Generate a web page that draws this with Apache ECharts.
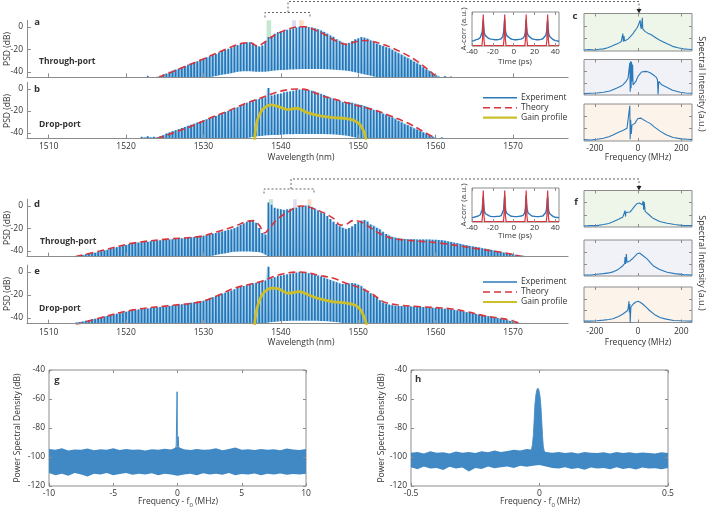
<!DOCTYPE html>
<html><head><meta charset="utf-8">
<script src="https://cdn.jsdelivr.net/npm/echarts@6/dist/echarts.min.js"></script>
<style>html,body{margin:0;padding:0;background:#fff}#c{width:707px;height:511px}</style>
</head><body><div id="c"></div><script>
// ---------------- DATA ----------------
const COMB_STEP = 0.4;            // nm, comb line spacing
const WL_TICKS = [1510,1520,1530,1540,1550,1560,1570];
const PSD_TICKS = [-40,-20,0];
const LEGEND_ITEMS = ['Experiment', 'Theory', 'Gain profile'];

// (a) through-port, peaks of comb lines starting at A_START
const A_START = 1522.8;
const A_PEAKS = [-43.5,-46,-46,-44.5,-43.5,-42.5,-41.5,-40,-39,-38,
 -37,-36,-35,-33.5,-32.5,-31.5,-30.5,-29,-28,-27,
 -26,-25,-24,-22.5,-21.5,-20.5,-19.5,-18.5,-17,-16,
 -15,-14,-13.5,-13.5,-15,-17,-17.5,-16.5,-13,-9,
 -8,-6,-4.5,-4,-3,-2.5,-2,-1,-0.5,0.5,
 1,0.5,0,-0.5,-1,-2,-3,-4.5,-6,-7.5,
 -9,-11,-12.5,-14,-15,-14,-12.5,-11,-10,-9,
 -9.5,-10.5,-12,-13.5,-15,-16,-17,-18,-19,-20.5,
 -22,-23.5,-25,-26.5,-28,-29.5,-31,-32.5,-34,-36,
 -38,-39.5,-41.5,-43,-44.5,-46,-44,-46,-44.2];
const A_THEORY = [[1524.2,-45],[1527,-37],[1530,-28.5],[1533,-19.5],[1535,-14.5],[1536,-14],[1537,-17],[1538,-13],[1539,-8],[1540.5,-3],[1542,0],[1543,0.3],[1544,-1.5],[1545.5,-6],[1547,-12],[1548.5,-15.5],[1549.5,-13.5],[1550.5,-12],[1551.5,-12.5],[1553,-15],[1554.5,-19],[1556,-24],[1557.5,-30],[1559,-38],[1560.2,-45]];
const A_FLOOR = [[1530,-46],[1533,-42],[1535.5,-39.5],[1537.5,-40],[1540,-38.5],[1544,-37.5],[1547.5,-38.5],[1550,-41],[1553,-46]];
const A_SELECTED = [[1538.15,1538.75],[1541.45,1541.95],[1542.35,1542.95]];

// (b) drop-port
const B_START = 1522.0;
const B_PEAKS = [-43.5,-44,-43,-44,-43.5,-44,-43,-42,-40.5,-39.5,
 -38.5,-37.5,-36.5,-35.5,-34.5,-33.5,-32.5,-31.5,-30.5,-29.5,
 -28.5,-27.5,-26.5,-25.5,-24.5,-23.5,-22.5,-21,-20,-19,
 -17.5,-16.5,-15,-14,-12.5,-11.5,-10.5,-9.5,-9,-8,
 -7.5,1,-6,-5,-4.5,-4,-3,-2.5,-2,-1.5,
 -1,-0.5,-0.5,-1,-1,-1.5,-2.5,-3.5,-4.5,-5.5,
 -7,-8,-9,-10,-11,-12,-12.5,-12,-12.5,-13.5,
 -14,-14.5,-15.5,-16.5,-17.5,-19,-20,-21,-22.5,-23.5,
 -25,-26,-27.5,-29,-30.5,-32,-33,-34.5,-36,-37,
 -38.5,-39.5,-41,-42,-43.5,-44.5,-46,-44,-46,-44.5];
const B_THEORY = [[1524,-45],[1528,-35],[1531,-26],[1533.5,-19],[1535.5,-13],[1537.3,-8.5],[1539,-4],[1540.6,-1],[1542.1,0],[1543.5,-1],[1545.1,-5.5],[1547.3,-10],[1549,-13.5],[1552,-19],[1554,-24],[1556.4,-31],[1558,-37],[1560,-45]];
const B_GAIN = [[1536.6,-46],[1536.9,-30],[1537.4,-21],[1537.9,-17],[1538.7,-14.5],[1539.5,-15.5],[1540.8,-18.5],[1542.1,-17.5],[1543.4,-21.5],[1545.1,-24.5],[1546.8,-26],[1548.5,-27],[1549.6,-29],[1550.3,-33],[1550.8,-40],[1551,-46]];
const B_FLOOR = [[1535,-46],[1537,-43],[1540,-41.5],[1544,-41],[1548,-42],[1550.5,-46]];

// (d) through-port, second state
const D_START = 1513.2;
const D_PEAKS = [-45.5,-44.5,-44,-43.5,-43,-42.5,-42,-41.5,-41,-40.3,
 -39.6,-39,-38.2,-37.5,-36.8,-36,-35.3,-34.6,-33.8,-33.2,
 -32.8,-32.5,-32.2,-32,-31.7,-31.4,-31.1,-30.8,-30.5,-30.2,
 -30,-29.8,-29.5,-29.2,-29,-28.7,-28.4,-28.1,-27.8,-27.5,
 -27.2,-27,-26.5,-26,-25.3,-24.6,-24,-23.3,-22.6,-22,
 -21.3,-20.6,-19.8,-18.5,-17,-15.5,-14,-12.8,-12.5,-15,
 -19.5,-24,-25.5,3,1,-1.5,-2.5,-3,-3.5,-3,
 -2.5,-2,-1.5,-0.5,0,0.5,0.5,-1,-2.5,-4,
 -5.5,-7,-9,-11.5,-14,-16,-18,-19.5,-20.5,-19.5,
 -18,-16,-14,-13,-12.5,-14,-16.5,-18,-19.5,-21,
 -23,-25,-26.5,-27.5,-28.3,-28.8,-29.2,-29.4,-29.5,-29.6,
 -29.6,-29.7,-29.8,-29.8,-29.9,-29.9,-30,-30,-30.2,-30.5,
 -31,-31.5,-32,-32.6,-33.2,-33.8,-34.4,-35,-35.5,-36,
 -36.5,-37,-37.5,-38,-38.6,-39.2,-39.8,-40.4,-41,-41.5,
 -42,-42.5,-43,-43.5,-44,-44.3,-44.5,-44.6,-44.7,-44.8,
 -45];
const D_THEORY = [[1513.5,-45],[1516.6,-40],[1520.9,-33],[1525.3,-29.5],[1529.6,-27],[1532,-22.5],[1533.9,-18.5],[1535.5,-14],[1536.4,-13],[1537.2,-17],[1537.9,-24],[1538.5,-20],[1539.5,-12],[1541,-5],[1542.5,0],[1544.7,-3.6],[1546.8,-11],[1547.7,-17],[1548.4,-16.5],[1549.3,-13],[1550.3,-14],[1551.5,-19],[1552.9,-25],[1554.5,-29],[1556.4,-30.5],[1560.6,-33],[1564.9,-37.5],[1569.2,-42],[1571.2,-45]];
const D_FLOOR = [[1530,-46],[1532.5,-42.5],[1535,-40.5],[1537,-41],[1538.5,-46]];
const D_SELECTED = [[1538.45,1539.0],[1541.6,1542.05],[1543.45,1543.95]];

// (e) drop-port, second state
const E_START = 1509.6;
const E_PEAKS = [-44.5,-45.5,-44.5,-45.5,-44.6,-45.5,-44.5,-45.5,-44.8,-44.5,
 -44,-43.5,-43,-42.4,-41.8,-41.2,-40.6,-40,-39.4,-38.8,
 -38.2,-37.6,-37,-36.4,-35.8,-35.2,-34.6,-34,-33.5,-33.1,
 -32.7,-32.3,-32,-31.7,-31.4,-31.1,-30.8,-30.5,-30.2,-30,
 -29.6,-29.2,-28.8,-28.4,-28,-27.6,-27.2,-26.8,-26.4,-26,
 -25.6,-25,-24,-23,-22,-21,-20,-19,-18,-17,
 -16,-15,-14,-13,-12.2,-11.5,-10.8,-10,-9.3,-8.7,
 -8,-7.5,4.5,-5.5,-4.5,-3.5,-3,-2.5,-2,-1.5,
 -1,-0.5,0,0,-0.5,-1,-1.5,-2,-3,-4,
 -5,-6,-7,-8,-9,-10,-10.5,-10.5,-10,-9.5,
 -10,-11,-12.5,-14.5,-16.5,-18.5,-20.5,-22.5,-24.5,-26.5,
 -27.8,-28.5,-29,-29.3,-29.5,-29.7,-29.8,-29.9,-30,-30.1,
 -30.2,-30.4,-30.5,-30.7,-30.9,-31.1,-31.3,-31.5,-31.7,-32,
 -32.3,-32.7,-33.1,-33.5,-34,-34.5,-35,-35.5,-36,-36.6,
 -37.2,-37.6,-38,-38.6,-39.2,-39.7,-40.2,-40.8,-41.4,-42,
 -42.6,-43.2,-43.8,-44.3,-44.6,-45.5,-44.8,-45.5,-45.5,-44.8,
 -44.8,-45.5];
const E_THEORY = [[1513.5,-46],[1516.6,-40],[1520.9,-33],[1525.3,-29.5],[1529.6,-26],[1532,-20],[1534,-14],[1537.3,-8.5],[1540,-2],[1542.5,0],[1545,-3],[1546.8,-5.5],[1548.5,-10],[1550.3,-14],[1552,-20],[1553.3,-26],[1555,-28.5],[1557.6,-30],[1561.9,-32],[1564,-34.5],[1566.2,-38],[1569.7,-42],[1571.2,-45.5]];
const E_GAIN = [[1536.6,-46],[1536.9,-32],[1537.4,-22],[1538,-16.5],[1538.8,-14],[1539.6,-14.5],[1541,-18.5],[1542.4,-17],[1543.6,-20],[1544.8,-23],[1546.8,-26],[1548.5,-27],[1549.6,-29],[1550.3,-33],[1550.8,-40],[1551.1,-46]];
const E_FLOOR = [[1537,-46],[1539,-43.5],[1543,-42.5],[1547,-43.5],[1549,-46]];

// autocorrelation insets
const AC_TICKS = [-40,-20,0,20,40];
const ACA_EXP = [[-40,0.16],[-38,0.17],[-36,0.2],[-34,0.22],[-32,0.27],[-31,0.32],[-30.2,0.45],[-29.6,0.7],[-29.2,0.85],[-28.8,0.62],[-28.2,0.42],[-27.2,0.33],[-26,0.28],[-24,0.24],[-22,0.22],[-20,0.21],[-18,0.2],[-16,0.2],[-14,0.21],[-12,0.23],[-10.5,0.3],[-9.6,0.45],[-9,0.72],[-8.6,0.86],[-8.2,0.6],[-7.6,0.42],[-6.6,0.33],[-5,0.27],[-3,0.23],[-1,0.21],[1,0.2],[3,0.2],[5,0.21],[7,0.22],[9,0.25],[10.5,0.32],[11.2,0.45],[11.7,0.72],[12,0.84],[12.4,0.6],[13,0.42],[14,0.33],[15.5,0.27],[17.5,0.23],[20,0.21],[22,0.2],[24,0.2],[26,0.21],[28,0.23],[29.5,0.27],[30.8,0.34],[31.7,0.48],[32.2,0.74],[32.6,0.82],[33,0.58],[33.6,0.4],[34.6,0.3],[36,0.24],[38,0.2],[40,0.17],[43.5,0.15]];
const ACD_EXP = [[-40,0.14],[-38,0.15],[-36,0.17],[-34,0.19],[-32,0.23],[-31,0.28],[-30.2,0.4],[-29.6,0.68],[-29.2,0.82],[-28.8,0.58],[-28.2,0.36],[-27.2,0.27],[-26,0.22],[-24,0.2],[-22,0.18],[-20,0.17],[-18,0.17],[-16,0.18],[-14,0.18],[-12,0.2],[-10.5,0.26],[-9.6,0.4],[-9,0.7],[-8.6,0.83],[-8.2,0.56],[-7.6,0.36],[-6.6,0.28],[-5,0.22],[-3,0.19],[-1,0.18],[1,0.17],[3,0.17],[5,0.18],[7,0.19],[9,0.21],[10.5,0.28],[11.2,0.42],[11.7,0.7],[12,0.84],[12.4,0.58],[13,0.38],[14,0.28],[15.5,0.22],[17.5,0.19],[20,0.18],[22,0.17],[24,0.17],[26,0.18],[28,0.19],[29.5,0.23],[30.8,0.3],[31.7,0.45],[32.2,0.72],[32.6,0.8],[33,0.55],[33.6,0.36],[34.6,0.26],[36,0.2],[38,0.17],[40,0.15],[43.5,0.14]];
const AC_THEORY = [[-40,0.01],[-30.5,0.01],[-29.9,0.2],[-29.5,0.7],[-29.2,1],[-28.9,0.7],[-28.5,0.2],[-27.9,0.01],
 [-9.9,0.01],[-9.3,0.2],[-8.9,0.7],[-8.6,1],[-8.3,0.7],[-7.9,0.2],[-7.3,0.01],
 [10.7,0.01],[11.3,0.2],[11.7,0.7],[12,1],[12.3,0.7],[12.7,0.2],[13.3,0.01],
 [31.3,0.01],[31.9,0.2],[32.3,0.7],[32.6,1],[32.9,0.7],[33.3,0.2],[33.9,0.01],[43.5,0.01]];

// (c)/(f) RF beat spectra of the selected lines
const RF_TICKS = [-200,0,200];
const C1 = [[-250,0.03],[-225,0.04],[-200,0.03],[-180,0.05],[-160,0.06],[-140,0.09],[-120,0.14],[-105,0.18],[-90,0.22],[-78,0.26],[-72,0.3],[-70,0.49],[-68,0.26],[-65,0.42],[-62,0.28],[-55,0.3],[-45,0.34],[-37,0.39],[-25,0.47],[-14,0.57],[-6,0.63],[0,0.7],[4,0.66],[8,0.74],[10,0.86],[12,0.7],[15,0.62],[18,0.8],[20,0.93],[22,0.62],[25,0.58],[32,0.55],[45,0.5],[60,0.46],[75,0.4],[95,0.32],[115,0.26],[135,0.2],[160,0.13],[185,0.09],[210,0.06],[230,0.05],[250,0.04]];
const C2 = [[-250,0.04],[-220,0.05],[-190,0.06],[-160,0.08],[-130,0.12],[-100,0.2],[-80,0.26],[-70,0.3],[-55,0.4],[-46,0.5],[-40,0.55],[-38,0.95],[-36,0.1],[-34,1.0],[-32,0.2],[-30,0.98],[-28,0.4],[-25,0.9],[-23,0.3],[-20,0.25],[-10,0.4],[0,0.55],[9,0.6],[16,0.68],[23,0.72],[35,0.7],[45,0.69],[56,0.66],[70,0.6],[85,0.52],[90,0.45],[93,0.02],[96,0.4],[110,0.3],[135,0.22],[160,0.14],[195,0.08],[220,0.06],[250,0.05]];
const C3 = [[-250,0.04],[-220,0.03],[-190,0.05],[-160,0.08],[-135,0.12],[-116,0.17],[-90,0.25],[-70,0.3],[-51,0.36],[-42,0.4],[-38,1.0],[-36,0.05],[-34,0.6],[-31,0.2],[-28,0.45],[-20,0.46],[-14,0.5],[-7,0.58],[0,0.64],[7,0.66],[14,0.65],[25,0.6],[40,0.55],[56,0.5],[75,0.4],[102,0.28],[130,0.18],[163,0.1],[200,0.06],[230,0.05],[250,0.04]];
const F1 = [[-250,0.03],[-220,0.04],[-190,0.04],[-160,0.07],[-135,0.1],[-116,0.15],[-90,0.22],[-70,0.29],[-63,0.33],[-60,0.47],[-58,0.3],[-56,0.42],[-50,0.38],[-37,0.43],[-25,0.52],[-14,0.61],[-5,0.67],[0,0.7],[7,0.69],[14,0.67],[20,0.64],[24,0.75],[26,0.5],[29,0.72],[33,0.45],[42,0.43],[55,0.33],[70,0.25],[100,0.16],[135,0.11],[170,0.07],[210,0.04],[250,0.04]];
const F2 = [[-250,0.03],[-220,0.03],[-190,0.05],[-160,0.07],[-135,0.09],[-116,0.12],[-90,0.2],[-70,0.3],[-62,0.36],[-60,0.55],[-57,0.35],[-54,0.64],[-51,0.4],[-45,0.42],[-37,0.44],[-25,0.51],[-14,0.58],[-5,0.64],[0,0.67],[7,0.67],[14,0.64],[28,0.57],[42,0.5],[56,0.4],[70,0.3],[100,0.19],[135,0.11],[170,0.07],[210,0.04],[250,0.03]];
const F3 = [[-250,0.04],[-220,0.04],[-190,0.05],[-160,0.07],[-135,0.09],[-116,0.11],[-90,0.18],[-70,0.25],[-51,0.34],[-46,0.4],[-42,0.63],[-40,0.3],[-38,0.55],[-36,0.0],[-33,0.45],[-28,0.5],[-23,0.54],[-12,0.6],[0,0.63],[10,0.6],[23,0.54],[40,0.44],[56,0.34],[80,0.22],[102,0.15],[130,0.1],[165,0.06],[200,0.05],[250,0.04]];

// (g) wide-span beat-note PSD
const G_X = [-10,-9.5,-9,-8.5,-8,-7.5,-7,-6.5,-6,-5.5,-5,-4.5,-4,-3.5,-3,-2.5,-2,-1.5,-1,-0.5,0,0.5,1,1.5,2,2.5,3,3.5,4,4.5,5,5.5,6,6.5,7,7.5,8,8.5,9,9.5,10];
const G_UPPER = [-94.5,-95,-94,-95.5,-94.8,-95,-94.2,-95.3,-94.6,-95,-94,-95.2,-94.5,-95,-94.8,-95.5,-94.6,-95,-94.3,-94.8,-93,-94.7,-95.2,-94.5,-95,-94.8,-94,-95.3,-94.5,-93.5,-95,-94.6,-95.2,-94.4,-95,-94.7,-95.3,-94.2,-94.9,-95.1,-94.5];
const G_LOWER = [-111,-112.5,-111.5,-113,-111,-112,-113.5,-111.5,-112,-111,-112.5,-111.8,-111,-112.2,-111.5,-112,-111.2,-112.5,-111.6,-112,-113,-112,-111.5,-112.5,-111.2,-112,-111.6,-112.3,-111,-112.5,-111.8,-112,-111.3,-112.6,-111.5,-112,-111.4,-112.2,-111.7,-112,-111.5];
const G_SPIKE = [[-0.2,-95],[-0.1,-92.5],[-0.05,-92],[-0.03,-55],[-0.01,-93],[0.03,-92],[0.06,-86],[0.09,-93],[0.2,-95]];
const PSD2_TICKS = [-120,-100,-80,-60,-40];
const G_XTICKS = [-10,-5,0,5,10];

// (h) narrow-span beat-note PSD
const H_X = [-0.5,-0.475,-0.45,-0.425,-0.4,-0.375,-0.35,-0.325,-0.3,-0.275,-0.25,-0.225,-0.2,-0.175,-0.15,-0.125,-0.1,-0.075,-0.05,-0.025,0,0.025,0.05,0.075,0.1,0.125,0.15,0.175,0.2,0.225,0.25,0.275,0.3,0.325,0.35,0.375,0.4,0.425,0.45,0.475,0.5];
const H_UPPER = [-97,-96.5,-97.5,-96,-97,-96.8,-97.5,-96.2,-97,-96.5,-97.2,-96,-96.8,-95.5,-96.5,-95.8,-95,-95.5,-94.5,-95,-95,-96.5,-97,-96.5,-97.2,-96.8,-97.5,-96.5,-97,-97.3,-96.8,-97.5,-96.6,-97.2,-96.8,-97.4,-96.9,-97.2,-97.5,-96.8,-97.3];
const H_LOWER = [-107,-108.5,-106.5,-108,-107.5,-109,-106.8,-108,-107.2,-110,-107.5,-108.2,-106.5,-107.8,-107,-106.5,-107.5,-106,-106.8,-106,-105.5,-106.5,-107.5,-108,-107,-108.3,-107.5,-108.8,-107.2,-108,-107.6,-108.4,-107,-108.2,-107.5,-108.6,-107.3,-108,-107.7,-108.5,-107.5];
const H_PEAK = [[-0.04,-100],[-0.033,-96],[-0.028,-92],[-0.024,-85],[-0.021,-75],[-0.018,-64],[-0.014,-57],[-0.01,-53.5],[-0.006,-52.5],[-0.002,-54],[0.002,-58],[0.006,-66],[0.009,-76],[0.012,-86],[0.015,-93],[0.02,-97],[0.025,-100]];
const H_XTICKS = [-0.5,0,0.5];

// ---------------- STYLE ----------------
const F = 'Open Sans';
const TXT = '#333';
const AX = '#8c8c8c';
const BLUE = '#2b79b9';
const BAR = '#2474b6';
const RED = '#d8343c';
const GAINC = '#cdbf2c';
const NOISE = '#4189c5';
const FS = 8.5;

const grids = [], xAxes = [], yAxes = [], series = [];
const numFmt = v => String(v);

function grid(box, o) {
  o = o || {};
  grids.push({left: box[0], top: box[1], width: box[2], height: box[3], containLabel: false,
    show: !!o.show, borderColor: AX, borderWidth: o.show ? 1 : 0,
    backgroundColor: o.bg || 'transparent'});
  return grids.length - 1;
}
function axis(gi, min, max, o) {
  o = o || {};
  const a = {type: 'value', gridIndex: gi, min: min, max: max, z: 6,
    axisLine: {show: !!o.line, onZero: false, lineStyle: {color: AX, width: o.lw || 1}},
    axisTick: {show: !!o.ticks, inside: true, length: o.tl || 3, lineStyle: {color: AX}},
    axisLabel: {show: !!o.labels, margin: o.margin == null ? 4 : o.margin, fontSize: o.fs || FS, fontFamily: F, color: TXT, formatter: numFmt},
    splitLine: {show: false}};
  if (o.pos) a.position = o.pos;
  if (o.ticks) a.axisTick.customValues = o.ticks;
  if (o.labels) a.axisLabel.customValues = o.labels;
  return a;
}
function mainPanel(box, showLabels) {
  const gi = grid(box);
  const xi = xAxes.push(axis(gi, 1507.2, 1577.1, {line: true, lw: 1.2, ticks: WL_TICKS, labels: showLabels ? WL_TICKS : null, tl: 4, margin: 4, pos: 'bottom'})) - 1;
  const yi = yAxes.push(axis(gi, -45, 6, {line: true, ticks: PSD_TICKS, labels: PSD_TICKS, tl: 4, margin: 4, pos: 'left'})) - 1;
  return {gi, xi, yi};
}
function framedPanel(box, xr, yr, o) {
  const gi = grid(box, {show: true, bg: o.bg});
  const xi = xAxes.push(axis(gi, xr[0], xr[1], {ticks: o.xt, labels: o.xl, margin: o.xm, pos: 'bottom', fs: o.fs})) - 1;
  xAxes.push(axis(gi, xr[0], xr[1], {ticks: o.xt, pos: 'top'}));
  const yi = yAxes.push(axis(gi, yr[0], yr[1], {ticks: o.yt, labels: o.yl, margin: o.ym, pos: 'left', fs: o.fs})) - 1;
  yAxes.push(axis(gi, yr[0], yr[1], {ticks: o.yt, pos: 'right'}));
  return {gi, xi, yi};
}
function barRender(params, api) {
  const x = api.value(0), y = api.value(1);
  const top = api.coord([x, y]);
  const bot = api.coord([x, -47]);
  return {type: 'rect', shape: {x: top[0] - 0.85, y: top[1], width: 1.7, height: bot[1] - top[1]}, style: {fill: BAR}};
}
function combPanel(ax, start, peaks, floorPts, theory, gain, selected) {
  const pts = peaks.map((v, i) => [Math.round((start + i * COMB_STEP) * 100) / 100, v]);
  const base = {xAxisIndex: ax.xi, yAxisIndex: ax.yi, silent: true, animation: false};
  series.push(Object.assign({type: 'line', data: pts, step: 'middle', symbol: 'none', lineStyle: {width: 0},
    areaStyle: {origin: 'start', opacity: 1, color: {type: 'linear', x: 0, y: 0, x2: 0, y2: 1,
      colorStops: [{offset: 0, color: '#d6ecfa'}, {offset: 1, color: '#8dc4e9'}]}}, z: 1}, base));
  series.push(Object.assign({type: 'custom', data: pts, renderItem: barRender, clip: true, z: 2}, base));
  const fl = Object.assign({type: 'line', data: floorPts, smooth: true, symbol: 'none', lineStyle: {width: 0},
    areaStyle: {origin: 'start', color: '#ffffff', opacity: 1}, z: 3}, base);
  if (selected) {
    const cols = ['rgba(150,210,170,0.55)', 'rgba(195,195,235,0.6)', 'rgba(250,205,165,0.65)'];
    fl.markArea = {silent: true, data: selected.map((s, i) => [{xAxis: s[0], yAxis: -45, itemStyle: {color: cols[i]}}, {xAxis: s[1], yAxis: 6}])};
  }
  series.push(fl);
  series.push(Object.assign({name: 'Theory', type: 'line', data: theory, smooth: 0.35, symbol: 'none',
    lineStyle: {color: RED, width: 1.6, type: [7, 4]}, itemStyle: {color: RED}, z: 5}, base));
  if (gain) {
    series.push(Object.assign({name: 'Gain profile', type: 'line', data: gain, smooth: 0.35, symbol: 'none',
      lineStyle: {color: GAINC, width: 2.8}, itemStyle: {color: GAINC}, z: 6}, base));
  }
}
function polyRender(getPts, fill, stroke) {
  return function (params, api) {
    const pts = getPts().map(p => api.coord(p));
    return {type: 'polygon', shape: {points: pts}, style: {fill: fill, stroke: stroke || null, lineWidth: 0.8}};
  };
}

// ---------------- PANELS ----------------
const pa = mainPanel([27, 20.3, 541, 57.1], false);
const pb = mainPanel([27, 82.4, 541, 56.1], true);
const pd = mainPanel([27, 199.2, 541, 57.4], false);
const pe = mainPanel([27, 265.1, 541, 58.6], true);
combPanel(pa, A_START, A_PEAKS, A_FLOOR, A_THEORY, null, A_SELECTED);
combPanel(pb, B_START, B_PEAKS, B_FLOOR, B_THEORY, B_GAIN, null);
combPanel(pd, D_START, D_PEAKS, D_FLOOR, D_THEORY, null, D_SELECTED);
combPanel(pe, E_START, E_PEAKS, E_FLOOR, E_THEORY, E_GAIN, null);

// autocorrelation insets
function acInset(box, exp) {
  const p = framedPanel(box, [-40, 43.5], [0, 1.08], {xt: AC_TICKS, xl: AC_TICKS, xm: 2, fs: 8});
  series.push({type: 'line', xAxisIndex: p.xi, yAxisIndex: p.yi, data: exp, symbol: 'none', lineStyle: {color: BLUE, width: 1.4}, z: 3, silent: true});
  series.push({type: 'line', xAxisIndex: p.xi, yAxisIndex: p.yi, data: AC_THEORY, symbol: 'none', lineStyle: {color: RED, width: 1.2}, z: 4, silent: true});
}
acInset([472, 12, 87, 34], ACA_EXP);
acInset([472, 188, 87, 34], ACD_EXP);

// RF spectra
const BG = ['#eef6ea', '#f1f1f8', '#fcf3ea'];
function rfPanel(box, data, bg, labels, margin) {
  const p = framedPanel(box, [-250, 250], [0, 1.05], {xt: RF_TICKS, xl: labels ? RF_TICKS : null, xm: margin, yt: [0.35, 0.7], bg: bg});
  series.push({type: 'line', xAxisIndex: p.xi, yAxisIndex: p.yi, data: data, symbol: 'none', lineStyle: {color: BLUE, width: 1.1}, silent: true});
}
rfPanel([584, 13.5, 108, 37.5], C1, BG[0], false);
rfPanel([584, 59.5, 108, 35.5], C2, BG[1], false);
rfPanel([584, 104, 108, 37], C3, BG[2], true, 3);
rfPanel([584, 190.5, 108, 36.5], F1, BG[0], false);
rfPanel([584, 240, 108, 36], F2, BG[1], false);
rfPanel([584, 287, 108, 35.5], F3, BG[2], true, 5);

// g & h
const pg = framedPanel([49, 370, 257, 116], [-10, 10], [-120, -40], {xt: G_XTICKS, xl: G_XTICKS, xm: 3, yt: PSD2_TICKS, yl: PSD2_TICKS, ym: 4});
series.push({type: 'custom', xAxisIndex: pg.xi, yAxisIndex: pg.yi, data: [[0, -100]], clip: true, silent: true, z: 2,
  renderItem: polyRender(() => G_X.map((x, i) => [x, G_UPPER[i]]).concat(G_X.map((x, i) => [x, G_LOWER[i]]).reverse()), NOISE)});
series.push({type: 'line', xAxisIndex: pg.xi, yAxisIndex: pg.yi, data: G_SPIKE, symbol: 'none', lineStyle: {color: NOISE, width: 1}, z: 3, silent: true});

const ph = framedPanel([411, 370, 257, 116], [-0.5, 0.5], [-120, -40], {xt: H_XTICKS, xl: H_XTICKS, xm: 3, yt: PSD2_TICKS, yl: PSD2_TICKS, ym: 4});
series.push({type: 'custom', xAxisIndex: ph.xi, yAxisIndex: ph.yi, data: [[0, -100]], clip: true, silent: true, z: 2,
  renderItem: polyRender(() => H_X.map((x, i) => [x, H_UPPER[i]]).concat(H_X.map((x, i) => [x, H_LOWER[i]]).reverse()), NOISE)});
series.push({type: 'custom', xAxisIndex: ph.xi, yAxisIndex: ph.yi, data: [[0, -60]], clip: true, silent: true, z: 3,
  renderItem: polyRender(() => H_PEAK, NOISE, NOISE)});

// ---------------- TEXT / DECORATION ----------------
function txt(x, y, text, o) {
  o = o || {};
  return {type: 'text', x: x, y: y, rotation: o.rot || 0, z: 100, silent: true,
    style: {text: text, fontSize: o.fs || FS, fontFamily: F, fontWeight: o.bold ? 'bold' : 'normal', fill: TXT,
      textAlign: o.align || 'center', align: o.align || 'center', textVerticalAlign: 'middle', verticalAlign: 'middle', rich: o.rich}};
}
function dots(points) {
  return {type: 'polyline', z: 100, silent: true, shape: {points: points}, style: {stroke: '#555', lineWidth: 0.9, lineDash: [2, 2], fill: null}};
}
function arrowDown(x, y) {
  return {type: 'polygon', z: 100, silent: true, shape: {points: [[x - 2.5, y - 4.5], [x + 2.5, y - 4.5], [x, y]]}, style: {fill: '#222'}};
}
function legendBlock(top) {
  const styles = [
    {stroke: BLUE, lineWidth: 1.6},
    {stroke: RED, lineWidth: 1.6, lineDash: [7, 4]},
    {stroke: GAINC, lineWidth: 2.2}
  ];
  const out = [];
  LEGEND_ITEMS.forEach((name, i) => {
    const y = top + i * 10;
    out.push({type: 'line', z: 100, silent: true, shape: {x1: 483, y1: y, x2: 517, y2: y}, style: styles[i]});
    out.push(txt(521, y, name, {align: 'left'}));
  });
  return out;
}
const R = Math.PI / 2;
const sub = {s: {fontSize: 6, fontFamily: F, fill: TXT, padding: [6, 0, 0, 0]}};
const graphic = [
  txt(37, 22, 'a', {bold: true, fs: 9.5}), txt(37, 89, 'b', {bold: true, fs: 9.5}),
  txt(575, 16, 'c', {bold: true, fs: 9.5}), txt(37, 204, 'd', {bold: true, fs: 9.5}),
  txt(37, 271, 'e', {bold: true, fs: 9.5}), txt(576, 202, 'f', {bold: true, fs: 9.5}),
  txt(57, 380, 'g', {bold: true, fs: 9.5}), txt(418, 379, 'h', {bold: true, fs: 9.5}),
  txt(39, 62, 'Through-port', {bold: true, align: 'left'}), txt(39, 125, 'Drop-port', {bold: true, align: 'left'}),
  txt(40, 242, 'Through-port', {bold: true, align: 'left'}), txt(39, 309, 'Drop-port', {bold: true, align: 'left'}),
  txt(8, 49, 'PSD (dB)', {rot: R}), txt(8, 111, 'PSD (dB)', {rot: R}),
  txt(8, 228, 'PSD (dB)', {rot: R}), txt(8, 294, 'PSD (dB)', {rot: R}),
  txt(301, 158, 'Wavelength (nm)'), txt(301, 343, 'Wavelength (nm)'),
  txt(638, 158, 'Frequency (MHz)'), txt(638, 343, 'Frequency (MHz)'),
  txt(702, 84, 'Spectral Intensity (a.u.)', {rot: -R, fs: 9}), txt(702, 263, 'Spectral Intensity (a.u.)', {rot: -R, fs: 9}),
  txt(464, 29, 'A-corr (a.u.)', {rot: R, fs: 8}), txt(464, 205, 'A-corr (a.u.)', {rot: R, fs: 8}),
  txt(515, 62, 'Time (ps)', {fs: 8}), txt(515, 236, 'Time (ps)', {fs: 8}),
  txt(18, 428, 'Power Spectral Density (dB)', {rot: R}), txt(382, 428, 'Power Spectral Density (dB)', {rot: R}),
  txt(178, 502, 'Frequency - f{s|0} (MHz)', {rich: sub}), txt(540, 502, 'Frequency - f{s|0} (MHz)', {rich: sub}),
  dots([[265, 17.5], [265, 12.5], [310, 12.5], [310, 17.5]]),
  dots([[288, 12.5], [288, 1.5], [639, 1.5], [639, 9]]), arrowDown(639, 13.5),
  dots([[264, 193.5], [264, 189], [314, 189], [314, 193.5]]),
  dots([[291, 189], [291, 179], [639, 179], [639, 186]]), arrowDown(639, 190.5)
].concat(legendBlock(97.7), legendBlock(282));

const chart = echarts.init(document.getElementById('c'), null, {renderer: 'canvas', width: 707, height: 511});
chart.setOption({
  animation: false,
  backgroundColor: '#fff',
  grid: grids, xAxis: xAxes, yAxis: yAxes, series: series,
  graphic: graphic
});
</script></body></html>
